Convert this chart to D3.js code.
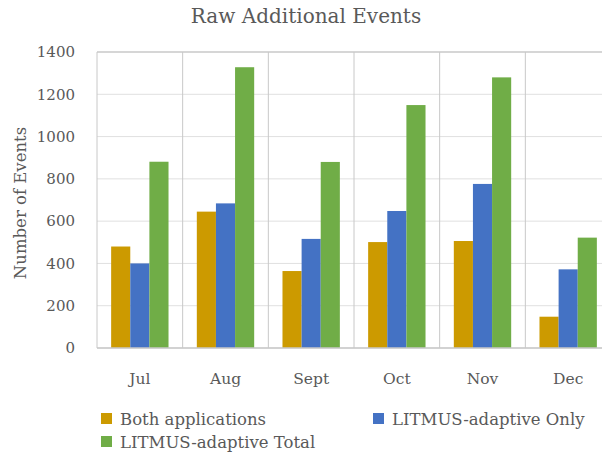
<!DOCTYPE html>
<html>
<head>
<meta charset="utf-8">
<script src="https://cdn.jsdelivr.net/npm/d3@7"></script>
<style>
  body { margin: 0; background: #fff; }
  svg text { font-family: "DejaVu Serif", serif; fill: #595959; }
</style>
</head>
<body>
<div id="chart"></div>
<script>
const months = ["Jul", "Aug", "Sept", "Oct", "Nov", "Dec"];
const seriesNames = ["Both applications", "LITMUS-adaptive Only", "LITMUS-adaptive Total"];
const bothApps = [480, 645, 364, 501, 506, 148];
const adaptiveOnly = [400, 684, 516, 648, 776, 372];
const adaptiveTotal = [881, 1328, 880, 1149, 1280, 522];
const colors = ["#CC9A00", "#4472C4", "#70AD47"];
const yTicks = [0, 200, 400, 600, 800, 1000, 1200, 1400];

const W = 602, H = 457;
const margin = { top: 52, left: 97 };
const plotW = 514, plotH = 296;
const fontFam = "'DejaVu Serif', serif";

const svg = d3.select("#chart").append("svg")
    .attr("width", W)
    .attr("height", H);

const x = d3.scaleBand().domain(months).range([margin.left, margin.left + plotW]);
const x1 = d3.scaleBand().domain(seriesNames).range([0, x.bandwidth()]).paddingOuter(0.74);
const y = d3.scaleLinear().domain([0, 1400]).range([margin.top + plotH, margin.top]);

// horizontal gridlines
svg.append("g").selectAll("line")
    .data(yTicks)
    .enter().append("line")
    .attr("x1", margin.left).attr("x2", margin.left + plotW)
    .attr("y1", d => y(d)).attr("y2", d => y(d))
    .attr("stroke", d => d === 1400 ? "#c8c8c8" : "#e0e0e0")
    .attr("stroke-width", d => d === 1400 ? 1.5 : 1);

// vertical separators
svg.append("g").selectAll("line")
    .data(months)
    .enter().append("line")
    .attr("x1", d => x(d)).attr("x2", d => x(d))
    .attr("y1", y(1400)).attr("y2", y(0))
    .attr("stroke", "#c8c8c8");

// bars
const data = months.map((m, i) => ({ month: m, values: [bothApps[i], adaptiveOnly[i], adaptiveTotal[i]] }));
const groups = svg.append("g").selectAll("g")
    .data(data)
    .enter().append("g")
    .attr("transform", d => `translate(${x(d.month)},0)`);
groups.selectAll("rect")
    .data(d => d.values.map((v, j) => ({ name: seriesNames[j], value: v, j })))
    .enter().append("rect")
    .attr("x", d => x1(d.name))
    .attr("width", x1.bandwidth())
    .attr("y", d => y(d.value))
    .attr("height", d => y(0) - y(d.value))
    .attr("fill", d => colors[d.j]);

// bottom axis line
svg.append("line")
    .attr("x1", margin.left).attr("x2", margin.left + plotW)
    .attr("y1", y(0)).attr("y2", y(0))
    .attr("stroke", "#c8c8c8").attr("stroke-width", 1.5);

// y axis labels
const yAxis = svg.append("g")
    .attr("transform", `translate(${margin.left - 22},0)`)
    .call(d3.axisLeft(y).tickValues(yTicks).tickFormat(d3.format("d")).tickSize(0).tickPadding(0));
yAxis.select(".domain").remove();
yAxis.selectAll("text")
    .style("font-size", "15px")
    .style("fill", "#595959")
    .style("font-family", fontFam);

// x axis labels
const xAxis = svg.append("g")
    .attr("transform", `translate(0,${y(0) + 21})`)
    .call(d3.axisBottom(x).tickSize(0).tickPadding(4));
xAxis.select(".domain").remove();
xAxis.selectAll("text")
    .style("font-size", "15.5px")
    .style("fill", "#595959")
    .style("font-family", fontFam);

// title
svg.append("text")
    .attr("x", 306).attr("y", 23)
    .attr("text-anchor", "middle")
    .style("font-size", "20px")
    .text("Raw Additional Events");

// y axis title
svg.append("text")
    .attr("transform", `translate(26,${margin.top + plotH / 2 + 3}) rotate(-90)`)
    .attr("text-anchor", "middle")
    .style("font-size", "16.5px")
    .text("Number of Events");

// legend
const legendPos = [[101, 425], [373, 425], [101, 448]];
const legend = svg.append("g").selectAll("g")
    .data(seriesNames)
    .enter().append("g")
    .attr("transform", (d, i) => `translate(${legendPos[i][0]},${legendPos[i][1]})`);
legend.append("rect")
    .attr("x", 0).attr("y", -12)
    .attr("width", 11).attr("height", 11)
    .attr("fill", (d, i) => colors[i]);
legend.append("text")
    .attr("x", 19).attr("y", 0)
    .style("font-size", "16.5px")
    .text(d => d);
</script>
</body>
</html>
